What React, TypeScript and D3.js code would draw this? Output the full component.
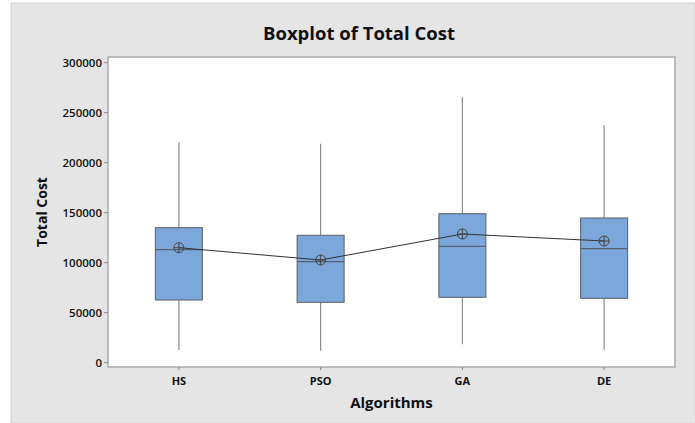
import React from "react";
import * as d3 from "d3";

const categories = ["HS", "PSO", "GA", "DE"];
const whiskerLow = [12700, 12000, 18500, 13000];
const q1 = [62700, 60400, 65400, 64400];
const median = [113000, 101000, 116400, 114000];
const q3 = [135000, 127400, 149000, 144700];
const whiskerHigh = [220500, 219000, 265500, 237500];
const means = [115000, 102700, 128700, 121700];
const yTicks = [0, 50000, 100000, 150000, 200000, 250000, 300000];

const W = 695;
const H = 423;
const plot = { left: 108, right: 675, top: 57, bottom: 367 };

export default function App() {
  const x = d3.scaleBand<string>().domain(categories).range([plot.left, plot.right]).padding(0);
  const y = d3.scaleLinear().domain([0, 300000]).range([362.7, 62.7]);
  const boxW = 47;
  const cx = (c: string) => (x(c) as number) + x.bandwidth() / 2;
  const meanLine = d3
    .line<number>()
    .x((_, i) => cx(categories[i]))
    .y((d) => y(d));
  const font = "'Open Sans', 'Noto Sans', sans-serif";

  return (
    <svg
      width={W}
      height={H}
      style={{ position: "absolute", left: 0, top: 0, background: "#fff" }}
      fontFamily={font}
    >
      <rect x={11} y={3} width={W - 11} height={H - 3} fill="#e5e5e5" stroke="#d2d2d2" strokeWidth={1} />
      <text x={359} y={40} textAnchor="middle" fontSize={18.5} fontWeight="bold" fill="#111">
        Boxplot of Total Cost
      </text>
      <rect
        x={plot.left}
        y={plot.top}
        width={plot.right - plot.left}
        height={plot.bottom - plot.top}
        fill="#fff"
        stroke="#aaa"
        strokeWidth={1.5}
      />
      {yTicks.map((t) => (
        <g key={t}>
          <line x1={plot.left - 4} x2={plot.left} y1={y(t)} y2={y(t)} stroke="#888" />
          <text x={plot.left - 6} y={y(t)} dy="0.35em" textAnchor="end" fontSize={11.5} fontWeight={600} fill="#111">
            {t}
          </text>
        </g>
      ))}
      {categories.map((c) => (
        <g key={c}>
          <line x1={cx(c)} x2={cx(c)} y1={plot.bottom} y2={plot.bottom + 3} stroke="#888" />
          <text x={cx(c)} y={385} textAnchor="middle" fontSize={11} fontWeight="bold" fill="#111">
            {c}
          </text>
        </g>
      ))}
      <text
        transform={`translate(47,${(plot.top + plot.bottom) / 2}) rotate(-90)`}
        textAnchor="middle"
        fontSize={14}
        fontWeight="bold"
        fill="#111"
      >
        Total Cost
      </text>
      <text x={(plot.left + plot.right) / 2} y={408} textAnchor="middle" fontSize={15} fontWeight="bold" fill="#111">
        Algorithms
      </text>
      {categories.map((c, i) => {
        const xc = cx(c);
        return (
          <g key={c}>
            <line x1={xc} x2={xc} y1={y(q3[i])} y2={y(whiskerHigh[i])} stroke="#8c8c8c" strokeWidth={1.2} />
            <line x1={xc} x2={xc} y1={y(q1[i])} y2={y(whiskerLow[i])} stroke="#8c8c8c" strokeWidth={1.2} />
            <rect
              x={xc - boxW / 2}
              y={y(q3[i])}
              width={boxW}
              height={y(q1[i]) - y(q3[i])}
              fill="#7ba7da"
              stroke="#5a5f66"
              strokeWidth={1}
            />
            <line x1={xc - boxW / 2} x2={xc + boxW / 2} y1={y(median[i])} y2={y(median[i])} stroke="#4d5259" strokeWidth={1} />
          </g>
        );
      })}
      <path d={meanLine(means) || ""} fill="none" stroke="#333" strokeWidth={1} />
      {categories.map((c, i) => {
        const xc = cx(c);
        const ym = y(means[i]);
        return (
          <g key={c} stroke="#444" strokeWidth={1} fill="none">
            <circle cx={xc} cy={ym} r={5} />
            <line x1={xc - 5} x2={xc + 5} y1={ym} y2={ym} />
            <line x1={xc} x2={xc} y1={ym - 5} y2={ym + 5} />
          </g>
        );
      })}
    </svg>
  );
}
